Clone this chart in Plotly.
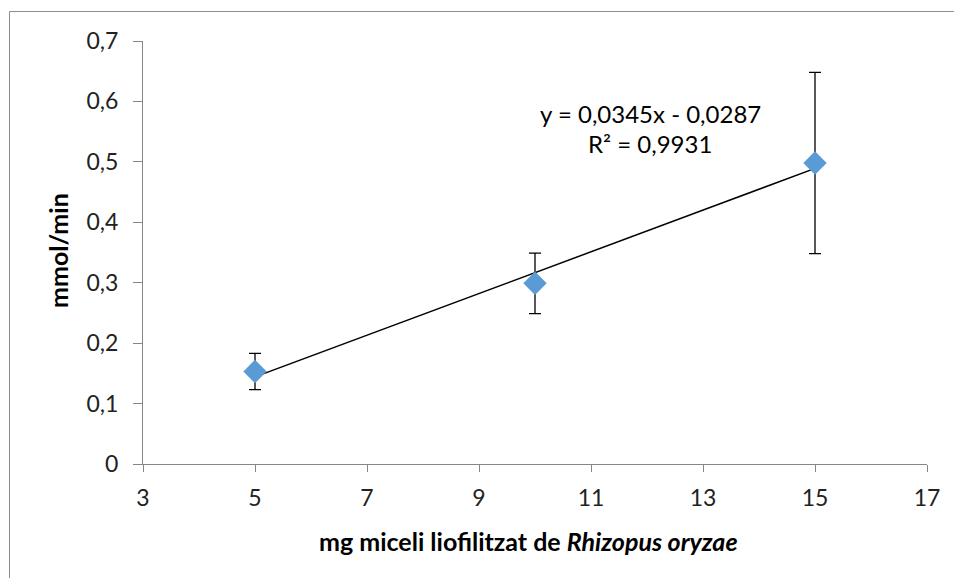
import numpy as np
import plotly.graph_objects as go

x_mg = [5, 10, 15]
y_rate = [0.153, 0.299, 0.498]
y_err = [0.03, 0.05, 0.15]
x_ticks = [3, 5, 7, 9, 11, 13, 15, 17]
y_ticks = [0, 0.1, 0.2, 0.3, 0.4, 0.5, 0.6, 0.7]
eq_text = "y = 0,0345x - 0,0287"
r2_text = "R² = 0,9931"
x_title = "<b>mg miceli liofilitzat de <i>Rhizopus oryzae</i></b>"
y_title = "<b>mmol/min</b>"

slope, intercept = np.polyfit(x_mg, y_rate, 1)
x_fit = [min(x_mg), max(x_mg)]
y_fit = [slope * v + intercept for v in x_fit]

FONT = "Lato, Carlito, 'Liberation Sans', sans-serif"

W, H = 954, 578
PL, PR, PT, PB = 143, 927, 41, 464  # plot area in screen pixels
L, R, T, B = PL, W - PR, PT, H - PB
pw, ph = PR - PL, PB - PT

def px(xs):
    return (xs - PL) / pw

def py(ys):
    return (PB - ys) / ph

fig = go.Figure()
fig.add_trace(go.Scatter(
    x=x_fit, y=y_fit, mode="lines",
    line=dict(color="black", width=1.5), hoverinfo="skip", showlegend=False))
fig.add_trace(go.Scatter(
    x=x_mg, y=y_rate, mode="markers",
    marker=dict(symbol="diamond", size=18, color="#5B9BD5"),
    error_y=dict(type="data", array=y_err, visible=True, color="black",
                 thickness=1.3, width=6),
    showlegend=False))

fig.add_shape(type="path", xref="paper", yref="paper",
              path=f"M {px(9.5)} {py(H + 5)} L {px(9.5)} {py(11.5)} L {px(W + 5)} {py(11.5)}",
              line=dict(color="#8c8c8c", width=1))

def note(xs, ys, text, size, angle=0):
    fig.add_annotation(x=px(xs), y=py(ys), xref="paper", yref="paper", text=text,
                       xanchor="center", yanchor="middle", textangle=angle,
                       showarrow=False, font=dict(size=size, color="black", family=FONT))

note(650, 113, eq_text, 24)
note(650, 143, r2_text, 24)
note(528, 541, x_title, 25)
note(58, 251, y_title, 25, -90)

fig.update_layout(
    width=W, height=H,
    margin=dict(l=L, r=R, t=T, b=B),
    paper_bgcolor="white", plot_bgcolor="white",
    separators=",.",
    font=dict(family=FONT, size=23, color="black"),
    xaxis=dict(range=[3, 17], tickvals=x_ticks, showgrid=False, zeroline=False,
               showline=True, linecolor="#868686", linewidth=1,
               ticks="outside", ticklen=7, tickcolor="#868686",
               ticklabelstandoff=6,
               tickfont=dict(size=23, color="#222")),
    yaxis=dict(range=[0, 0.7], tickvals=y_ticks, showgrid=False, zeroline=False,
               showline=True, linecolor="#868686", linewidth=1,
               ticks="outside", ticklen=9, tickcolor="#868686",
               ticklabelstandoff=10,
               tickfont=dict(size=23, color="#222")),
)

fig.write_html(
    "out.html",
    config={"displayModeBar": False},
    post_script="document.body.style.margin='0';document.body.style.overflow='hidden';",
)
